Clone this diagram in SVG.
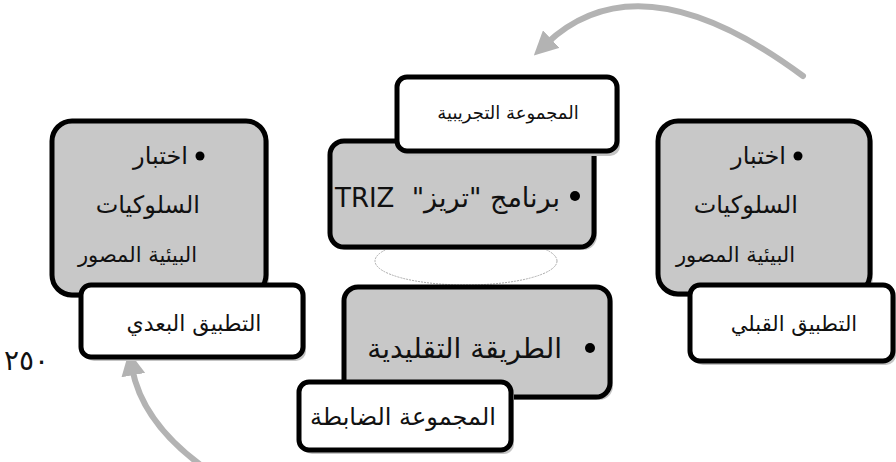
<svg xmlns="http://www.w3.org/2000/svg" width="896" height="462" viewBox="0 0 896 462">
<style>
.g{fill:#c8c8c8;stroke:#000;stroke-width:5}
.w{fill:#fff;stroke:#000;stroke-width:5}
.sh{fill:#c4c4c4}
.t{font-family:"DejaVu Sans",sans-serif;fill:#111}
.arr{fill:none;stroke:#b3b3b3;stroke-width:6;stroke-linecap:round}
</style>
<defs>
<marker id="ah" viewBox="0 0 10 10" refX="3" refY="5" markerWidth="4" markerHeight="4" orient="auto" markerUnits="strokeWidth">
<path d="M0 0 L10 5 L0 10 z" fill="#b3b3b3"/>
</marker>
</defs>
<g id="connectors">
<path class="arr" d="M803 76 Q640 -45 546 44" marker-end="url(#ah)"/>
<path class="arr" d="M202 466 Q142 422 132 368" marker-end="url(#ah)"/>
</g>
<g id="ellipse">
<ellipse cx="466" cy="261" rx="91" ry="24" fill="#fff" stroke="#aaa" stroke-width="1" stroke-dasharray="2 1"/>
</g>
<g id="left">
<rect class="sh" x="55" y="124" width="214" height="174" rx="20"/>
<rect class="g" x="52" y="121" width="214" height="174" rx="20"/>
<circle cx="200" cy="156" r="4.5" fill="#000"/>
<text class="t" x="188" y="164" font-size="24" text-anchor="end">اختبار</text>
<text class="t" x="200" y="213" font-size="24" text-anchor="end">السلوكيات</text>
<text class="t" x="197" y="262" font-size="21" text-anchor="end">البيئية المصور</text>
</g>
<g id="center-top">
<rect class="sh" x="333" y="144" width="264" height="106" rx="14"/>
<rect class="g" x="330" y="141" width="264" height="106" rx="14"/>
<circle cx="575" cy="196" r="5" fill="#000"/>
<text class="t" x="560" y="207" font-size="27" direction="rtl" unicode-bidi="embed" text-anchor="start">برنامج "تريز"</text>
<text class="t" x="335" y="207" font-size="26">TRIZ</text>
</g>
<g id="center-bottom">
<rect class="sh" x="347" y="290" width="266" height="110" rx="14"/>
<rect class="g" x="344" y="287" width="266" height="110" rx="14"/>
<circle cx="590" cy="348" r="5" fill="#000"/>
<text class="t" x="562" y="358" font-size="28" text-anchor="end">الطريقة التقليدية</text>
</g>
<g id="right">
<rect class="sh" x="661" y="124" width="212" height="173" rx="20"/>
<rect class="g" x="658" y="121" width="212" height="173" rx="20"/>
<circle cx="798" cy="156" r="4.5" fill="#000"/>
<text class="t" x="786" y="164" font-size="24" text-anchor="end">اختبار</text>
<text class="t" x="798" y="213" font-size="24" text-anchor="end">السلوكيات</text>
<text class="t" x="795" y="262" font-size="21" text-anchor="end">البيئية المصور</text>
</g>
<g id="label-top">
<rect class="sh" x="400" y="80" width="220" height="76" rx="10"/>
<rect class="w" x="397" y="77" width="220" height="74" rx="10"/>
<text class="t" x="508" y="119" font-size="18" text-anchor="middle">المجموعة التجريبية</text>
</g>
<g id="label-left">
<rect class="sh" x="84" y="288" width="222" height="73" rx="10"/>
<rect class="w" x="81" y="285" width="222" height="72" rx="10"/>
<text class="t" x="194" y="331" font-size="22" text-anchor="middle">التطبيق البعدي</text>
</g>
<g id="label-right">
<rect class="sh" x="693" y="288" width="203" height="77" rx="10"/>
<rect class="w" x="690" y="285" width="203" height="76" rx="10"/>
<text class="t" x="794" y="331" font-size="21" text-anchor="middle">التطبيق القبلي</text>
</g>
<g id="label-bottom">
<rect class="sh" x="302" y="385" width="212" height="69" rx="10"/>
<rect class="w" x="299" y="382" width="212" height="68" rx="10"/>
<text class="t" x="403" y="425" font-size="24" text-anchor="middle">المجموعة الضابطة</text>
</g>
<text class="t" x="4" y="370" font-size="28" letter-spacing="9">٢٥٠</text>
</svg>
